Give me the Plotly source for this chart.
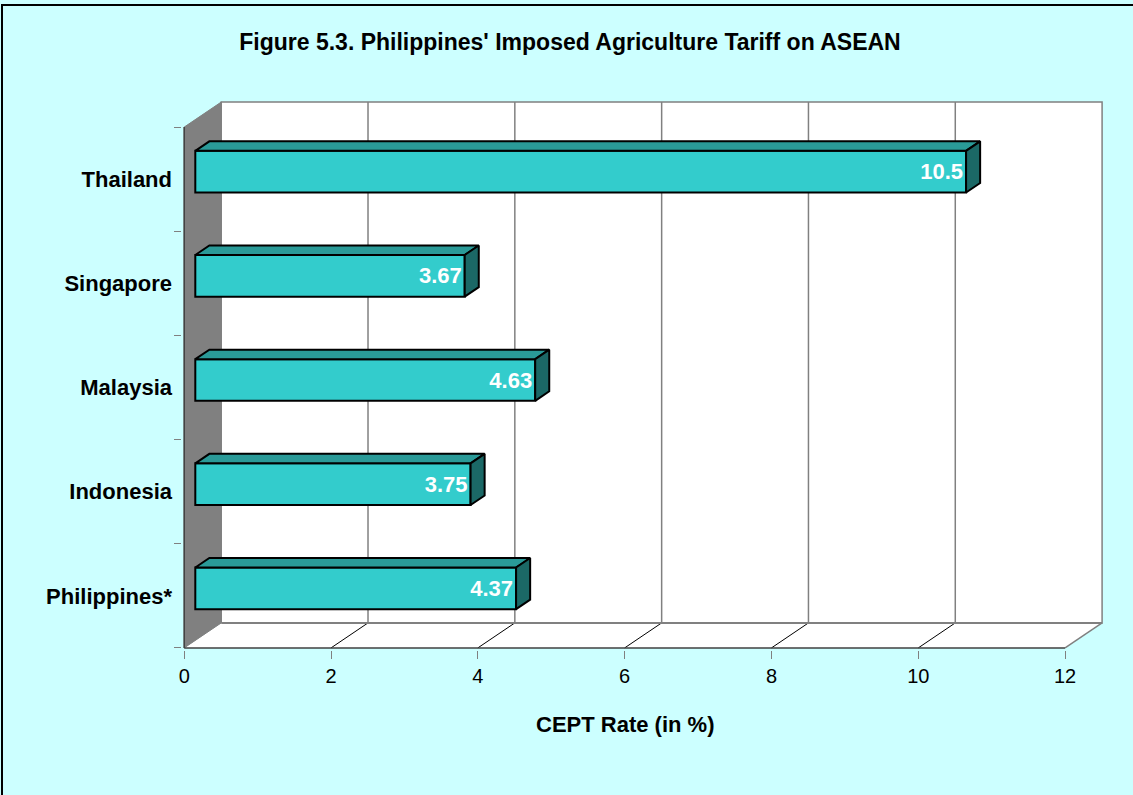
import plotly.graph_objects as go

# ---------------- data ----------------
countries = ["Philippines*", "Indonesia", "Malaysia", "Singapore", "Thailand"]
rates = [4.37, 3.75, 4.63, 3.67, 10.5]
x_ticks = [0, 2, 4, 6, 8, 10, 12]
title_text = "Figure 5.3. Philippines' Imposed Agriculture Tariff on ASEAN"
x_title = "CEPT Rate (in %)"

# ---------------- pseudo-3D geometry (axis units) ----------------
DX, DY = 0.504, 0.24      # depth offset of back wall
F0, F1 = 0.30, 0.68       # bar front / back depth fractions
BAR_H = 0.40              # bar thickness (category units)
XMAX = x_ticks[-1]
NCAT = len(countries)

FONT = "Liberation Sans, Arial, sans-serif"
FRONT = "#33CCCC"
TOP = "#2A9A98"
SIDE = "#1B6866"

fig = go.Figure()

ypos = [i + 0.5 for i in range(NCAT)]
base = F0 * DX
yc = [y + F0 * DY for y in ypos]
ddx = (F1 - F0) * DX
ddy = (F1 - F0) * DY

# top and side faces
for v, y in zip(rates, yc):
    yt, yb = y + BAR_H / 2, y - BAR_H / 2
    x1 = base + v
    fig.add_trace(go.Scatter(
        x=[base, base + ddx, x1 + ddx, x1, base],
        y=[yt, yt + ddy, yt + ddy, yt, yt],
        mode="lines", fill="toself", fillcolor=TOP,
        line=dict(color="black", width=2), hoverinfo="skip", showlegend=False))
    fig.add_trace(go.Scatter(
        x=[x1, x1, x1 + ddx, x1 + ddx, x1],
        y=[yb, yt, yt + ddy, yb + ddy, yb],
        mode="lines", fill="toself", fillcolor=SIDE,
        line=dict(color="black", width=2), hoverinfo="skip", showlegend=False))

# front faces
fig.add_trace(go.Bar(
    y=yc, x=rates, base=base, orientation="h", width=BAR_H,
    marker=dict(color=FRONT, line=dict(color="black", width=2)),
    texttemplate="<b>%{x}</b>", textposition="inside", insidetextanchor="end",
    insidetextfont=dict(color="white", size=22, family=FONT),
    constraintext="none", showlegend=False, hoverinfo="skip"))

# ---------------- walls / floor ----------------
shapes = []
L, R, B, T = 182, 29, 145, 100
W, H = 1133 - L - R, 795 - T - B
def px2paper(px, py):
    return (px - L) / W, (795 - B - py) / H
bx0, by0 = px2paper(2, 5)
bx1, by1 = px2paper(1145, 805)
# outer border of chart area
shapes.append(dict(type="rect", xref="paper", yref="paper", x0=bx0, y0=by1, x1=bx1, y1=by0,
                   line=dict(color="black", width=2), fillcolor="rgba(0,0,0,0)", layer="below"))
# back wall
shapes.append(dict(type="rect", xref="x", yref="y", x0=DX, x1=XMAX + DX, y0=DY, y1=NCAT + DY,
                   fillcolor="white", line=dict(color="#808080", width=1.5), layer="below"))
# floor
shapes.append(dict(type="path", xref="x", yref="y",
                   path=f"M 0 0 L {XMAX} 0 L {XMAX+DX} {DY} L {DX} {DY} Z",
                   fillcolor="white", line=dict(width=0), layer="below"))
# left wall
shapes.append(dict(type="path", xref="x", yref="y",
                   path=f"M 0 0 L 0 {NCAT} L {DX} {NCAT+DY} L {DX} {DY} Z",
                   fillcolor="#808080", line=dict(color="#808080", width=1), layer="below"))
# gridlines on back wall and floor diagonals
for t in x_ticks[1:-1]:
    shapes.append(dict(type="line", xref="x", yref="y", x0=t + DX, x1=t + DX, y0=DY, y1=NCAT + DY,
                       line=dict(color="#808080", width=1.5), layer="below"))
    shapes.append(dict(type="line", xref="x", yref="y", x0=t, x1=t + DX, y0=0, y1=DY,
                       line=dict(color="black", width=1), layer="below"))
# floor right edge
shapes.append(dict(type="line", xref="x", yref="y", x0=XMAX, x1=XMAX + DX, y0=0, y1=DY,
                   line=dict(color="#808080", width=1.5), layer="below"))
# back floor edge
shapes.append(dict(type="line", xref="x", yref="y", x0=DX, x1=XMAX + DX, y0=DY, y1=DY,
                   line=dict(color="#808080", width=2), layer="below"))
# front floor edge and wall front edge
shapes.append(dict(type="line", xref="x", yref="y", x0=0, x1=XMAX, y0=0, y1=0,
                   line=dict(color="#404040", width=1.5), layer="below"))
shapes.append(dict(type="line", xref="x", yref="y", x0=0, x1=0, y0=0, y1=NCAT,
                   line=dict(color="#404040", width=1.5), layer="below"))

fig.update_layout(
    width=1133, height=795,
    margin=dict(l=L, r=R, t=T, b=B),
    paper_bgcolor="#CCFFFF", plot_bgcolor="rgba(0,0,0,0)",
    shapes=shapes,
    showlegend=False,
    font=dict(family=FONT, color="black"),
    title=dict(text=f"<b>{title_text}</b>", x=570 / 1133, xanchor="center",
               y=1 - 42 / 795, yanchor="middle", font=dict(size=23, family=FONT, color="black")),
    xaxis=dict(range=[-0.03, 12.53], tickvals=x_ticks, ticktext=[str(t) for t in x_ticks],
               ticks="outside", ticklen=8, tickcolor="#808080", tickwidth=1,
               showgrid=False, zeroline=False, showline=False,
               tickfont=dict(size=20, family=FONT, color="black")),
    yaxis=dict(range=[-0.02, 5.26], tickvals=ypos, ticktext=[f"<b>{c}</b>" for c in countries],
               ticks="", showgrid=False, zeroline=False, showline=False,
               ticklabelstandoff=9,
               tickfont=dict(size=22, family=FONT, color="black"),
               minor=dict(tickvals=list(range(NCAT + 1)), ticks="outside", ticklen=7,
                          tickcolor="#808080", tickwidth=1, showgrid=False)),
    annotations=[dict(text=f"<b>{x_title}</b>", xref="x", yref="paper", x=XMAX / 2,
                      y=px2paper(0, 725)[1], xanchor="center", yanchor="middle",
                      showarrow=False, font=dict(size=22, family=FONT, color="black"))],
)

fig.write_html("out.html", config={"displayModeBar": False},
               post_script="document.body.style.margin='0';document.body.style.background='#CCFFFF';")
